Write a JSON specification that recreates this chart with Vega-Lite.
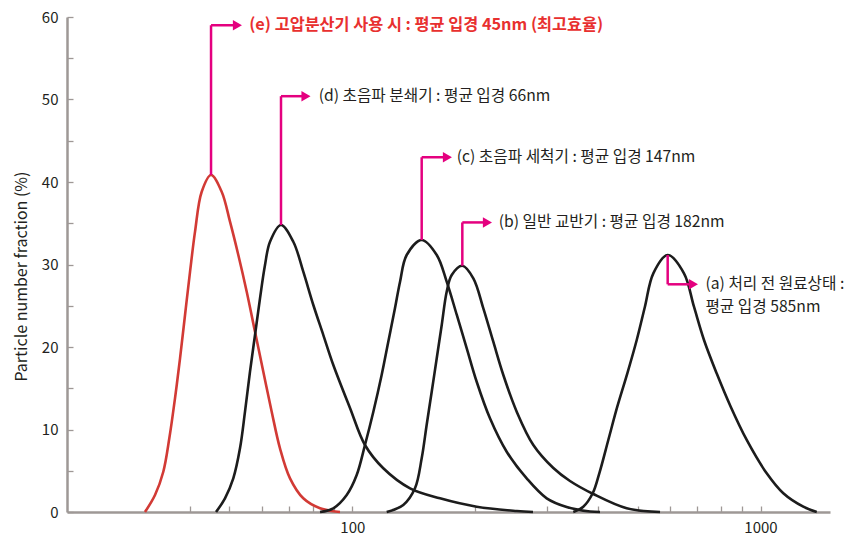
{
  "$schema": "https://vega.github.io/schema/vega-lite/v6.json",
  "width": 763,
  "height": 495,
  "autosize": {"type": "none"},
  "padding": {"left": 67, "top": 17, "right": 30, "bottom": 23},
  "background": "white",
  "config": {
    "view": {"stroke": null},
    "font": "Noto Sans CJK KR",
    "axis": {
      "labelFont": "Noto Sans CJK KR",
      "titleFont": "Noto Sans CJK KR",
      "labelColor": "#231f20",
      "titleColor": "#231f20",
      "domainColor": "#9e9896",
      "domainWidth": 2.5,
      "tickColor": "#9e9896",
      "tickWidth": 1.3,
      "grid": false
    }
  },
  "datasets": {
    "curves": [
      {"s": "e", "x": 31.05, "y": 0}, {"s": "e", "x": 32.86, "y": 2.06}, {"s": "e", "x": 34.43, "y": 4.88}, {"s": "e", "x": 35.62, "y": 8.93}, {"s": "e", "x": 36.78, "y": 13.78}, {"s": "e", "x": 37.84, "y": 18.63}, {"s": "e", "x": 38.92, "y": 23.88}, {"s": "e", "x": 40.04, "y": 29.13}, {"s": "e", "x": 41.18, "y": 33.98}, {"s": "e", "x": 42.76, "y": 38.82}, {"s": "e", "x": 45.07, "y": 40.85}, {"s": "e", "x": 47.86, "y": 38.82}, {"s": "e", "x": 50.16, "y": 35.19}, {"s": "e", "x": 52.57, "y": 31.15}, {"s": "e", "x": 55.12, "y": 26.7}, {"s": "e", "x": 57.76, "y": 21.85}, {"s": "e", "x": 60.53, "y": 17.01}, {"s": "e", "x": 63.46, "y": 12.16}, {"s": "e", "x": 66.5, "y": 7.72}, {"s": "e", "x": 70.37, "y": 4.08}, {"s": "e", "x": 75.84, "y": 1.66}, {"s": "e", "x": 83.35, "y": 0.45}, {"s": "e", "x": 93.29, "y": 0},
      {"s": "d", "x": 46.36, "y": 0}, {"s": "d", "x": 48.76, "y": 1.66}, {"s": "d", "x": 51.1, "y": 4.08}, {"s": "d", "x": 53.07, "y": 7.72}, {"s": "d", "x": 54.59, "y": 12.16}, {"s": "d", "x": 56.15, "y": 17.01}, {"s": "d", "x": 57.76, "y": 21.45}, {"s": "d", "x": 59.41, "y": 25.9}, {"s": "d", "x": 61.11, "y": 29.94}, {"s": "d", "x": 62.86, "y": 32.76}, {"s": "d", "x": 66.88, "y": 34.79}, {"s": "d", "x": 71.69, "y": 32.76}, {"s": "d", "x": 75.84, "y": 29.13}, {"s": "d", "x": 80.26, "y": 25.09}, {"s": "d", "x": 84.92, "y": 21.45}, {"s": "d", "x": 89.84, "y": 17.82}, {"s": "d", "x": 98.7, "y": 12.61}, {"s": "d", "x": 107.4, "y": 8.12}, {"s": "d", "x": 119.1, "y": 5.3}, {"s": "d", "x": 138.5, "y": 2.87}, {"s": "d", "x": 164.0, "y": 1.66}, {"s": "d", "x": 201.7, "y": 0.64}, {"s": "d", "x": 252.8, "y": 0.12}, {"s": "d", "x": 277.1, "y": 0},
      {"s": "c", "x": 83.35, "y": 0}, {"s": "c", "x": 89.84, "y": 0.45}, {"s": "c", "x": 96.89, "y": 2.06}, {"s": "c", "x": 102.5, "y": 4.48}, {"s": "c", "x": 107.4, "y": 8.12}, {"s": "c", "x": 112.6, "y": 12.16}, {"s": "c", "x": 118.0, "y": 16.61}, {"s": "c", "x": 122.5, "y": 20.64}, {"s": "c", "x": 127.2, "y": 24.69}, {"s": "c", "x": 130.9, "y": 27.92}, {"s": "c", "x": 135.9, "y": 31.15}, {"s": "c", "x": 147.9, "y": 32.97}, {"s": "c", "x": 161.0, "y": 31.15}, {"s": "c", "x": 170.3, "y": 27.92}, {"s": "c", "x": 180.3, "y": 23.88}, {"s": "c", "x": 190.7, "y": 19.84}, {"s": "c", "x": 201.7, "y": 15.79}, {"s": "c", "x": 217.4, "y": 11.36}, {"s": "c", "x": 238.9, "y": 7.31}, {"s": "c", "x": 267.4, "y": 4.08}, {"s": "c", "x": 299.4, "y": 1.66}, {"s": "c", "x": 335.1, "y": 0.61}, {"s": "c", "x": 382.2, "y": 0.06}, {"s": "c", "x": 404.4, "y": 0},
      {"s": "b", "x": 121.4, "y": 0}, {"s": "b", "x": 133.3, "y": 0.85}, {"s": "b", "x": 142.4, "y": 2.87}, {"s": "b", "x": 147.9, "y": 6.51}, {"s": "b", "x": 152.1, "y": 10.55}, {"s": "b", "x": 156.5, "y": 14.58}, {"s": "b", "x": 161.0, "y": 18.63}, {"s": "b", "x": 165.6, "y": 22.67}, {"s": "b", "x": 170.3, "y": 26.7}, {"s": "b", "x": 175.2, "y": 28.73}, {"s": "b", "x": 186.0, "y": 29.85}, {"s": "b", "x": 197.9, "y": 28.33}, {"s": "b", "x": 209.4, "y": 24.69}, {"s": "b", "x": 221.5, "y": 20.64}, {"s": "b", "x": 234.4, "y": 16.61}, {"s": "b", "x": 252.8, "y": 12.16}, {"s": "b", "x": 277.6, "y": 8.12}, {"s": "b", "x": 310.8, "y": 5.33}, {"s": "b", "x": 341.4, "y": 3.76}, {"s": "b", "x": 389.4, "y": 2.18}, {"s": "b", "x": 470.1, "y": 0.45}, {"s": "b", "x": 567.4, "y": 0},
      {"s": "a", "x": 347.8, "y": 0}, {"s": "a", "x": 368.0, "y": 0.64}, {"s": "a", "x": 388.1, "y": 2.27}, {"s": "a", "x": 402.8, "y": 4.69}, {"s": "a", "x": 423.8, "y": 8.73}, {"s": "a", "x": 445.8, "y": 12.76}, {"s": "a", "x": 471.8, "y": 16.81}, {"s": "a", "x": 497.5, "y": 20.85}, {"s": "a", "x": 521.0, "y": 24.88}, {"s": "a", "x": 546.3, "y": 28.93}, {"s": "a", "x": 592.4, "y": 31.15}, {"s": "a", "x": 649.4, "y": 28.93}, {"s": "a", "x": 687.1, "y": 24.88}, {"s": "a", "x": 727.0, "y": 20.85}, {"s": "a", "x": 780.9, "y": 16.81}, {"s": "a", "x": 845.3, "y": 12.76}, {"s": "a", "x": 925.2, "y": 8.73}, {"s": "a", "x": 1035.6, "y": 4.69}, {"s": "a", "x": 1137.3, "y": 2.27}, {"s": "a", "x": 1273.1, "y": 0.64}, {"s": "a", "x": 1373.4, "y": 0}
    ],
    "ann": [
      {"id": "e", "px": 45.07, "py": 40.85, "ly": 59.0, "ax": 52.3},
      {"id": "d", "px": 66.88, "py": 34.79, "ly": 50.4, "ax": 77.0},
      {"id": "c", "px": 147.9, "py": 32.97, "ly": 43.0, "ax": 171},
      {"id": "b", "px": 186.0, "py": 29.85, "ly": 35.1, "ax": 214.3},
      {"id": "a", "px": 592.4, "py": 31.15, "ly": 27.6, "ax": 685}
    ],
    "texts": [
      {"id": "e", "tx": 55.9, "ty": 59.0, "label": "(e) 고압분산기 사용 시 : 평균 입경 45nm (최고효율)"},
      {"id": "d", "tx": 82.7, "ty": 50.4, "label": "(d) 초음파 분쇄기 : 평균 입경 66nm"},
      {"id": "c", "tx": 180.2, "ty": 43.0, "label": "(c) 초음파 세척기 : 평균 입경 147nm"},
      {"id": "b", "tx": 228.4, "ty": 35.1, "label": "(b) 일반 교반기 : 평균 입경 182nm"},
      {"id": "a", "tx": 733, "ty": 27.65, "label": "(a) 처리 전 원료상태 :"},
      {"id": "a", "tx": 733, "ty": 24.85, "label": "평균 입경 585nm"}
    ]
  },
  "layer": [
    {
      "data": {"name": "curves"},
      "mark": {"type": "line", "interpolate": "catmull-rom", "strokeWidth": 2.6},
      "encoding": {
        "x": {
          "field": "x", "type": "quantitative",
          "scale": {"type": "log", "domain": [20, 1480], "nice": false},
          "axis": {
            "title": null,
            "values": [40, 50, 60, 70, 80, 90, 100, 200, 300, 400, 500, 600, 700, 800, 900, 1000],
            "format": "d",
            "labelExpr": "datum.value == 100 || datum.value == 1000 ? datum.label : ''",
            "tickSize": -6,
            "labelPadding": 14,
            "labelFontSize": 15
          }
        },
        "y": {
          "field": "y", "type": "quantitative",
          "scale": {"domain": [0, 60], "nice": false},
          "axis": {
            "title": "Particle number fraction (%)",
            "titleFontSize": 16,
            "titleFontWeight": "normal",
            "titleX": -38,
            "titleY": 259,
            "titleAlign": "center",
            "values": [0, 5, 10, 15, 20, 25, 30, 35, 40, 45, 50, 55, 60],
            "labelExpr": "datum.value % 10 === 0 ? datum.label : ''",
            "tickSize": -6,
            "labelPadding": 15,
            "labelFontSize": 15
          }
        },
        "color": {
          "field": "s", "type": "nominal",
          "scale": {"domain": ["a", "b", "c", "d", "e"], "range": ["#1c1c1c", "#1c1c1c", "#1c1c1c", "#1c1c1c", "#d23a35"]},
          "legend": null
        }
      }
    },
    {
      "data": {"name": "ann"},
      "mark": {"type": "rule", "color": "#e4007f", "strokeWidth": 2.5},
      "encoding": {
        "x": {"field": "px", "type": "quantitative"},
        "y": {"field": "py", "type": "quantitative"},
        "y2": {"field": "ly"}
      }
    },
    {
      "data": {"name": "ann"},
      "mark": {"type": "rule", "color": "#e4007f", "strokeWidth": 2.5},
      "encoding": {
        "x": {"field": "px", "type": "quantitative"},
        "x2": {"field": "ax"},
        "y": {"field": "ly", "type": "quantitative"}
      }
    },
    {
      "data": {"name": "ann"},
      "mark": {"type": "point", "shape": "triangle-right", "filled": true, "color": "#e4007f", "opacity": 1, "size": 110},
      "encoding": {
        "x": {"field": "ax", "type": "quantitative"},
        "y": {"field": "ly", "type": "quantitative"}
      }
    },
    {
      "data": {"name": "texts"},
      "transform": [{"filter": "datum.id != 'e'"}],
      "mark": {"type": "text", "align": "left", "baseline": "middle", "fontSize": 15.7, "color": "#231f20", "font": "Noto Sans CJK KR"},
      "encoding": {
        "x": {"field": "tx", "type": "quantitative"},
        "y": {"field": "ty", "type": "quantitative"},
        "text": {"field": "label"}
      }
    },
    {
      "data": {"name": "texts"},
      "transform": [{"filter": "datum.id == 'e'"}],
      "mark": {"type": "text", "align": "left", "baseline": "middle", "fontSize": 16.3, "fontWeight": "bold", "color": "#e8302f", "font": "Noto Sans CJK KR"},
      "encoding": {
        "x": {"field": "tx", "type": "quantitative"},
        "y": {"field": "ty", "type": "quantitative"},
        "text": {"field": "label"}
      }
    }
  ]
}
